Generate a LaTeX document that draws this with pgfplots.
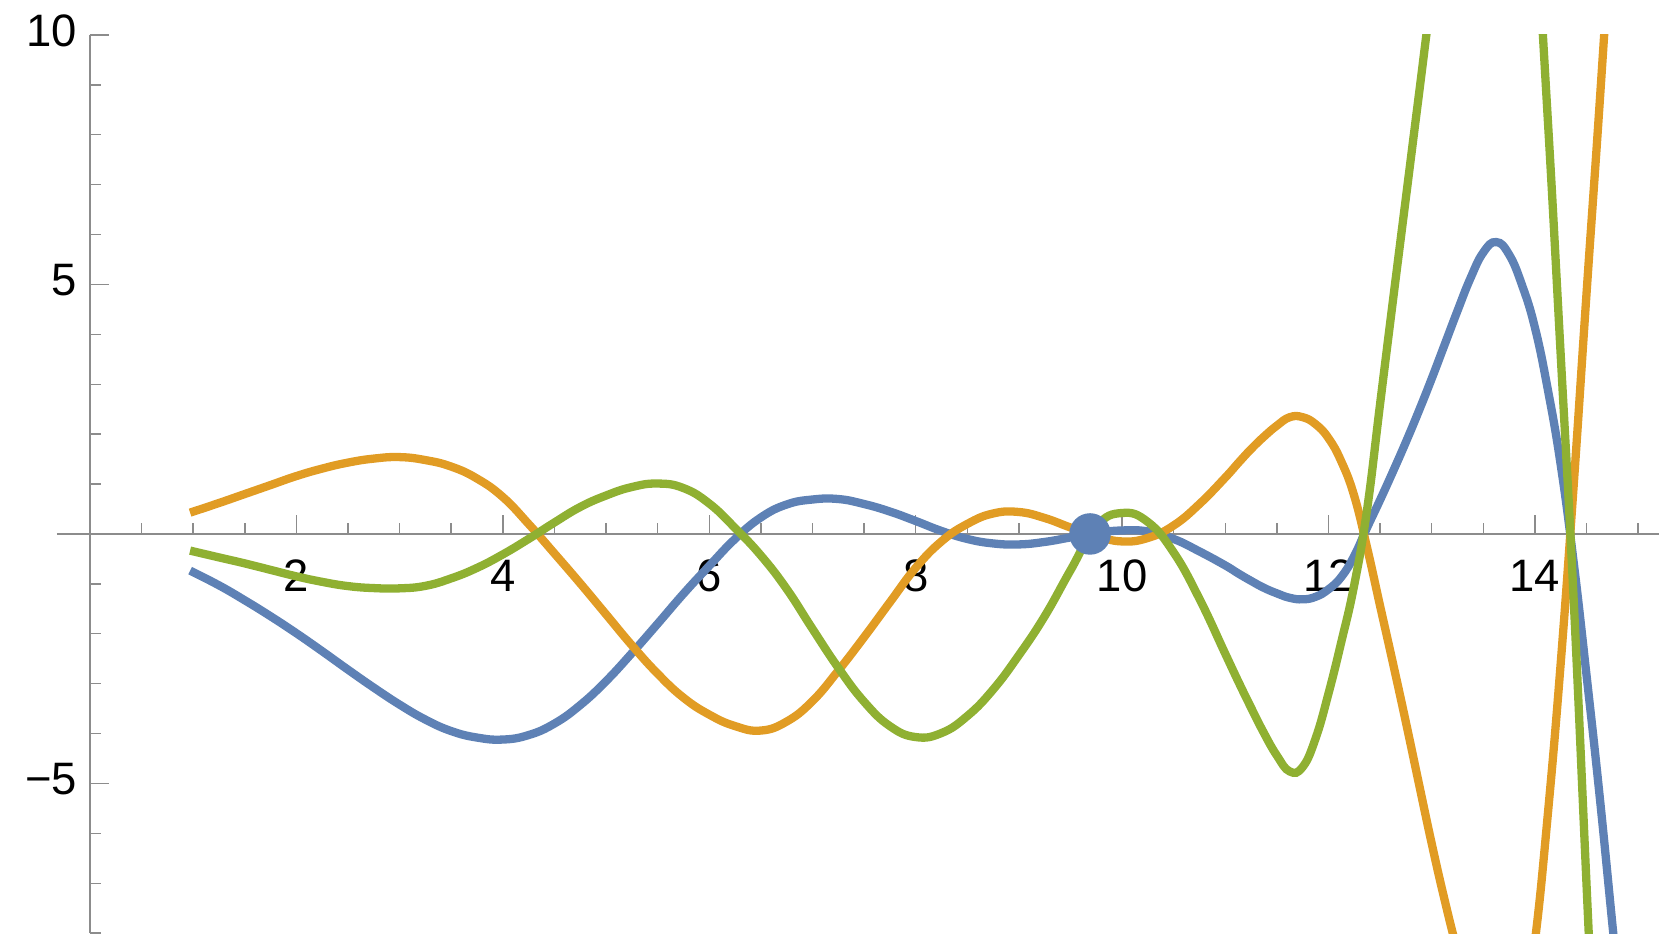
\documentclass[border=0pt]{standalone}
\usepackage{fontspec}
\setmainfont{Liberation Sans}
\usepackage{pgfplots}
\pgfplotsset{compat=1.18}
\definecolor{mblue}{rgb}{0.368417,0.506779,0.709798}
\definecolor{morange}{rgb}{0.880722,0.611041,0.142051}
\definecolor{mgreen}{rgb}{0.560181,0.691569,0.194885}
\definecolor{axgray}{rgb}{0.55,0.55,0.55}
\begin{document}
\begin{tikzpicture}
\begin{axis}[
  scale only axis, width=444.1pt, height=249.05pt,
  xmin=-0.32, xmax=15.2, ymin=-8, ymax=10,
  axis lines=middle,
  axis line style={-, draw=axgray, line width=0.4pt},
  xtick={2,4,...,14}, xticklabels={2,4,6,8,10,12,14},
  ytick={-5,5,10}, yticklabels={−5,5,10},
  minor xtick={0.5,1,...,15},
  minor ytick={-8,-7,-6,-4,-3,-2,-1,1,2,3,4,6,7,8,9},
  tick align=inside,
  major tick length=5.3pt, minor tick length=3pt,
  every tick/.style={draw=axgray, line width=0.4pt},
  tick label style={font=\fontsize{12.6}{14}\selectfont, text=black},
  xticklabel style={yshift=-3.7pt},
  yticklabel style={yshift=1.2pt},
  clip=true,
  every axis plot/.append style={line width=2.3pt, smooth, tension=0.75},
]
\addplot[color=mblue] coordinates {
(0.97,-0.735) (1.25,-1.03) (1.5,-1.33) (1.75,-1.65) (2.0,-1.99) (2.25,-2.35)
(2.5,-2.72) (2.75,-3.08) (3.0,-3.42) (3.25,-3.72) (3.5,-3.95) (3.75,-4.08)
(4.0,-4.12) (4.25,-4.03) (4.5,-3.80) (4.75,-3.43) (5.0,-2.95) (5.25,-2.39)
(5.5,-1.80) (5.75,-1.20) (6.0,-0.64) (6.25,-0.10) (6.5,0.33) (6.75,0.59)
(7.0,0.69) (7.25,0.70) (7.5,0.60) (7.75,0.45) (8.0,0.26) (8.25,0.06)
(8.5,-0.10) (8.75,-0.19) (9.0,-0.21) (9.25,-0.16) (9.5,-0.07) (9.75,0.02)
(10.0,0.07) (10.25,0.05) (10.5,-0.10) (10.75,-0.35) (11.0,-0.63) (11.125,-0.79)
(11.25,-0.94) (11.375,-1.08) (11.5,-1.19) (11.625,-1.28) (11.75,-1.31) (11.875,-1.26)
(12.0,-1.11) (12.125,-0.86) (12.25,-0.44) (12.375,0.13)
(12.5,0.68) (12.625,1.25) (12.75,1.84) (12.875,2.46) (13.0,3.11) (13.125,3.79)
(13.25,4.47) (13.375,5.12) (13.5,5.64) (13.625,5.85) (13.75,5.60) (13.875,4.99)
(14.0,4.14) (14.125,2.90) (14.25,1.39) (14.375,-0.55) (14.5,-2.82) (14.625,-5.2)
(14.75,-7.8) (14.875,-10.4)
};
\addplot[color=morange] coordinates {
(0.97,0.427) (1.25,0.62) (1.5,0.80) (1.75,0.98) (2.0,1.16) (2.25,1.31)
(2.5,1.43) (2.75,1.51) (3.0,1.54) (3.25,1.48) (3.5,1.35) (3.75,1.11)
(4.0,0.74) (4.25,0.20) (4.5,-0.39) (4.75,-0.99) (5.0,-1.61) (5.25,-2.23)
(5.5,-2.80) (5.75,-3.28) (6.0,-3.62) (6.25,-3.85) (6.5,-3.94) (6.75,-3.76)
(7.0,-3.35) (7.25,-2.74) (7.5,-2.07) (7.75,-1.37) (8.0,-0.68) (8.25,-0.15)
(8.5,0.20) (8.75,0.41) (9.0,0.44) (9.25,0.32) (9.5,0.13) (9.75,-0.04)
(10.0,-0.15) (10.25,-0.08) (10.5,0.17) (10.75,0.60) (11.0,1.13) (11.125,1.42)
(11.25,1.70) (11.375,1.95) (11.5,2.17) (11.625,2.34) (11.75,2.34) (11.875,2.20)
(12.0,1.92) (12.125,1.45) (12.25,0.76) (12.375,-0.28)
(12.5,-1.44) (12.625,-2.59) (12.75,-3.77) (12.875,-4.99) (13.0,-6.2) (13.125,-7.33)
(13.25,-8.36) (13.375,-9.27) (13.5,-9.93) (13.625,-10.29) (13.75,-10.4) (13.875,-9.8)
(14.0,-8.17) (14.125,-5.63) (14.25,-2.6) (14.375,0.94) (14.5,4.8) (14.625,8.55)
(14.75,12.5)
};
\addplot[color=mgreen] coordinates {
(0.97,-0.334) (1.25,-0.47) (1.5,-0.59) (1.75,-0.72) (2.0,-0.85) (2.25,-0.96)
(2.5,-1.045) (2.75,-1.085) (3.0,-1.09) (3.25,-1.04) (3.5,-0.89) (3.75,-0.68)
(4.0,-0.41) (4.25,-0.10) (4.5,0.23) (4.75,0.54) (5.0,0.77) (5.25,0.94)
(5.5,1.01) (5.75,0.92) (6.0,0.61) (6.25,0.12) (6.5,-0.43) (6.75,-1.10)
(7.0,-1.90) (7.25,-2.68) (7.5,-3.36) (7.75,-3.85) (8.0,-4.07) (8.25,-3.99)
(8.5,-3.65) (8.75,-3.12) (9.0,-2.43) (9.25,-1.65) (9.5,-0.73) (9.75,0.15)
(10.0,0.42) (10.25,0.24) (10.5,-0.37) (10.75,-1.30) (11.0,-2.40) (11.125,-2.95)
(11.25,-3.48) (11.375,-3.99) (11.5,-4.44) (11.625,-4.76) (11.75,-4.67) (11.875,-4.10)
(12.0,-3.20) (12.125,-2.16) (12.25,-1.02) (12.375,0.50)
(12.5,2.6) (12.625,4.68) (12.75,6.73) (12.875,8.78) (13.0,10.8) (13.125,12.5)
(13.25,13.9) (13.375,15.0) (13.5,15.7) (13.625,16.1) (13.75,16.16) (13.875,15.03)
(14.0,12.4) (14.125,8.32) (14.25,3.6) (14.375,-1.27) (14.5,-7.0) (14.625,-12.7)
};
\addplot[only marks, mark=*, mark size=4.6pt, color=mblue] coordinates {(9.69,0)};
\coordinate (BL) at (axis cs:-0.872,-8);
\coordinate (TR) at (axis cs:15.203,10.70);
\end{axis}
\pgfresetboundingbox
\useasboundingbox (BL) rectangle (TR);
\end{tikzpicture}
\end{document}
